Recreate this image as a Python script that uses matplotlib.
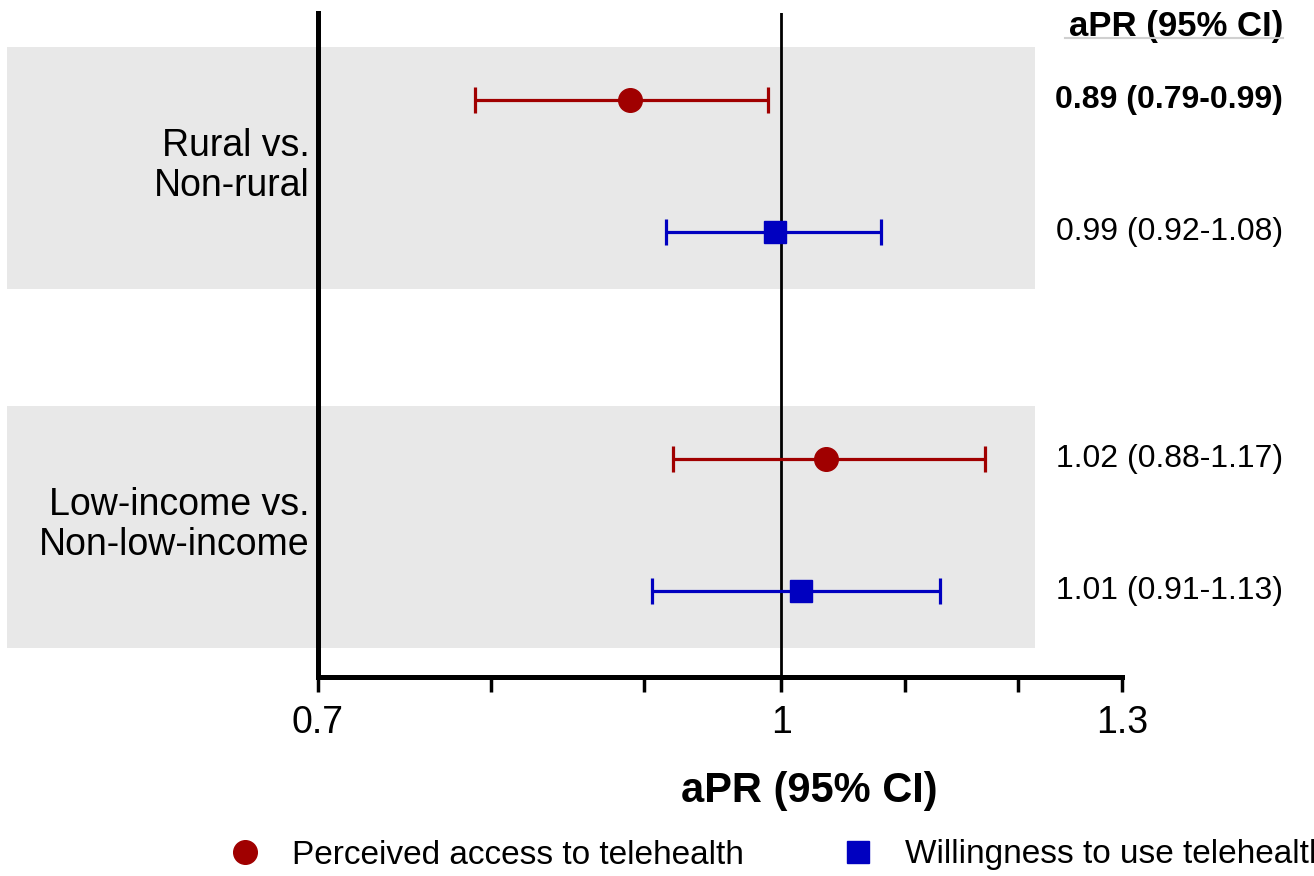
import matplotlib.pyplot as plt
import matplotlib.ticker as mticker
from matplotlib.lines import Line2D

plt.rcParams['font.family'] = ['Liberation Sans', 'DejaVu Sans']

#%% datos
grupos = ['Rural vs.\nNon-rural', 'Low-income vs.\nNon-low-income']
series = ['Perceived access to telehealth', 'Willingness to use telehealth']

# valores (aPR y limites del IC)
acceso_pr = [0.89, 1.035]
acceso_lo = [0.79, 0.92]
acceso_hi = [0.99, 1.17]

uso_pr = [0.995, 1.015]
uso_lo = [0.915, 0.905]
uso_hi = [1.08, 1.13]

# etiquetas de texto a la derecha (fila por fila)
etiquetas = ['0.89 (0.79-0.99)', '0.99 (0.92-1.08)',
             '1.02 (0.88-1.17)', '1.01 (0.91-1.13)']
negrita = [True, False, False, False]

ticks_may = [0.7, 1, 1.3]
ticks_men = [0.8, 0.9, 1.1, 1.2]

rojo = '#A00000'
azul = '#0000C0'

#%% figura
fig = plt.figure(figsize=(13.14, 8.76), dpi=100)
ax = fig.add_axes([0.242, 0.2272, 0.612, 0.758])

# posiciones de filas
y0 = 0.659
sep_grupo = 2.72
y_acc = [y0 + g * sep_grupo for g in range(len(grupos))]
y_uso = [y + 1 for y in y_acc]
filas = [y_acc[0], y_uso[0], y_acc[1], y_uso[1]]

for ya, yu in zip(y_acc, y_uso):
    ax.axhspan(ya - 0.40, yu + 0.43, xmin=-0.387, xmax=0.892,
               color='#E8E8E8', lw=0, zorder=0, clip_on=False)

ax.axvline(1, color='black', lw=2.0, zorder=2)

ax.errorbar(acceso_pr, y_acc,
            xerr=[[p - l for p, l in zip(acceso_pr, acceso_lo)],
                  [h - p for p, h in zip(acceso_pr, acceso_hi)]],
            fmt='o', color=rojo, ms=17, elinewidth=2.3, capsize=9.5,
            capthick=2.3, zorder=3)
ax.errorbar(uso_pr, y_uso,
            xerr=[[p - l for p, l in zip(uso_pr, uso_lo)],
                  [h - p for p, h in zip(uso_pr, uso_hi)]],
            fmt='s', color=azul, ms=16, elinewidth=2.3, capsize=9.5,
            capthick=2.3, zorder=3)

ax.set_xscale('log')
ax.set_xlim(0.7, 1.3)
ax.set_ylim(5.03, 0)
ax.xaxis.set_major_locator(mticker.FixedLocator(ticks_may))
ax.xaxis.set_major_formatter(mticker.FixedFormatter(['0.7', '1', '1.3']))
ax.xaxis.set_minor_locator(mticker.FixedLocator(ticks_men))
ax.xaxis.set_minor_formatter(mticker.NullFormatter())
ax.tick_params(axis='x', which='both', length=11, width=2.5, labelsize=27, pad=9)
ax.set_yticks([])
ax.spines['top'].set_visible(False)
ax.spines['right'].set_visible(False)
ax.spines['left'].set_linewidth(3.6)
ax.spines['bottom'].set_linewidth(3.6)
ax.patch.set_alpha(0)

# nombres de grupo
for g, nombre in enumerate(grupos):
    ax.text(-0.010, (y_acc[g] + y_uso[g]) / 2, nombre, transform=ax.get_yaxis_transform(),
            ha='right', va='center', fontsize=27, linespacing=1.15)

# columna derecha
ax.text(1.2, 0.106, 'aPR (95% CI)', transform=ax.get_yaxis_transform(),
        ha='right', va='center', fontsize=25, fontweight='bold', clip_on=False)
fig.add_artist(Line2D([1065 / 1314, 1283 / 1314], [1 - 38 / 876, 1 - 38 / 876],
                      color='#D0D0D0', lw=1.5))
for y, txt, b in zip(filas, etiquetas, negrita):
    ax.text(1.2, y, txt, transform=ax.get_yaxis_transform(), ha='right', va='center',
            fontsize=23, fontweight='bold' if b else 'normal', clip_on=False)

ax.set_xlabel('aPR (95% CI)', fontsize=30, fontweight='bold')
ax.xaxis.set_label_coords(0.611, -0.172)
ax.xaxis.label.set_va('center')

# leyenda (el texto de la derecha queda cortado, como en el original)
handles = [Line2D([], [], ls='none', marker='o', color=rojo, ms=17),
           Line2D([], [], ls='none', marker='s', color=azul, ms=16)]
fig.legend(handles, series, loc='center left', bbox_to_anchor=(228.5 / 1314, 1 - 855 / 876),
           ncol=2, frameon=False, fontsize=24, handlelength=1.0, handletextpad=0.92,
           columnspacing=2.9, borderpad=0, borderaxespad=0)

fig.savefig('out.png', dpi=100)
